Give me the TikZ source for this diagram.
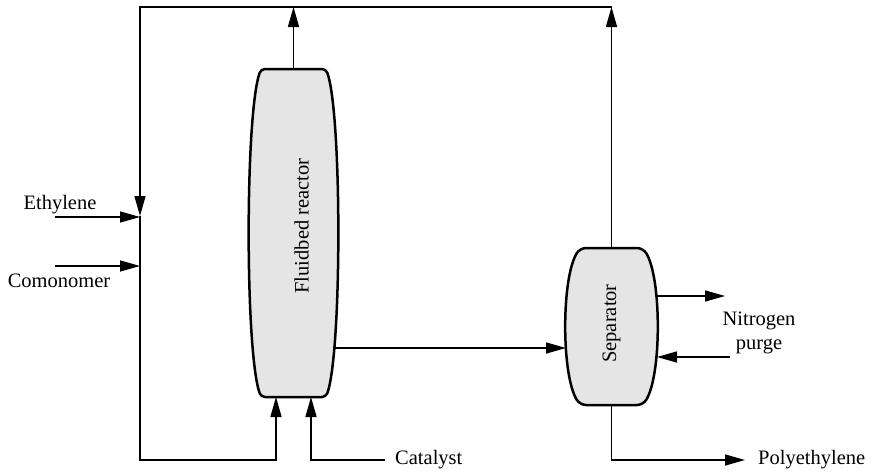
\documentclass[tikz,border=0pt]{standalone}
\usepackage{fontspec}
\setmainfont{Liberation Serif}
\usetikzlibrary{arrows.meta}

\tikzset{
  vessel/.style={inner sep=0pt, outer sep=0pt},
  shell/.style={line width=2.5pt, fill=black!10, rounded corners=4pt},
  pipe/.style={line width=1.5pt},
  flow/.style={pipe, -{Triangle[length=20pt,width=11pt]}},
  lbl/.style={font=\fontsize{20.5}{24}\selectfont, inner sep=0pt}
}

\begin{document}
\begin{tikzpicture}[x=1pt,y=-1pt]
\useasboundingbox (0,0) rectangle (879,474);

\node[vessel, minimum width=89pt, minimum height=328pt] (reactor) at (293.5,233) {};
\node[vessel, minimum width=91pt, minimum height=157pt] (sep) at (611.5,326.5) {};

% vessel shells
\draw[shell] (reactor.north) -- ([xshift=-12pt]reactor.north east)
  .. controls ([xshift=4pt,yshift=-45pt]reactor.north east) and ([xshift=4pt,yshift=45pt]reactor.south east) .. ([xshift=-12pt]reactor.south east)
  -- ([xshift=12pt]reactor.south west)
  .. controls ([xshift=-4pt,yshift=45pt]reactor.south west) and ([xshift=-4pt,yshift=-45pt]reactor.north west) .. ([xshift=12pt]reactor.north west)
  -- cycle;
\draw[shell, rounded corners=6pt] (sep.north) -- ([xshift=-14pt]sep.north east)
  .. controls ([xshift=4.7pt,yshift=-30pt]sep.north east) and ([xshift=4.7pt,yshift=30pt]sep.south east) .. ([xshift=-14pt]sep.south east)
  -- ([xshift=14pt]sep.south west)
  .. controls ([xshift=-4.7pt,yshift=30pt]sep.south west) and ([xshift=-4.7pt,yshift=-30pt]sep.north west) .. ([xshift=14pt]sep.north west)
  -- cycle;

\node[lbl, rotate=90] (reactorlbl) at ([xshift=8pt,yshift=7pt]reactor.center) {Fluidbed reactor};
\node[lbl, rotate=90] (seplbl) at ([yshift=3pt]sep.center) {Separator};

% labels
\node[lbl, anchor=base] (ethylene) at (60,209) {Ethylene};
\node[lbl, anchor=base] (comonomer) at (59,287) {Comonomer};
\node[lbl, anchor=west, inner xsep=10pt] (catalyst) at (385,460) {Catalyst};
\node[lbl, anchor=west, inner xsep=13pt] (poly) at (745,460) {Polyethylene};
\node[lbl, align=center] (n2) at (759,333) {Nitrogen\\purge};

\coordinate (nw) at (140,7);
\coordinate (ne) at (sep.north |- nw);
\coordinate (mix) at (140,216);
\coordinate (sw) at (140,460);
\coordinate (ethin) at (55,217);
\coordinate (comin) at (55,266);
\coordinate (prod) at ([xshift=-4pt,yshift=-115pt]reactor.east);
\coordinate (vent) at (725,296);
\coordinate (n2in) at (730,357);

% recycle loop
\draw[flow] (reactor.north) -- (reactor.north |- nw);
\draw[flow] (sep.north) -- (ne);
\draw[flow] (ne) -- (nw) -- (mix);
\draw[flow] (mix) -- (sw) -| ([xshift=-17.5pt]reactor.south);

% feeds and products
\draw[flow] (ethin) -- (ethin -| mix);
\draw[flow] (comin) -- (comin -| mix);
\draw[flow] (catalyst.west) -| ([xshift=17.5pt]reactor.south);
\draw[flow] (prod) -- (prod -| sep.west);
\draw[flow] ([yshift=30.5pt]sep.east) -- (vent);
\draw[flow] (n2in) -- (n2in -| sep.east);
\draw[flow] (sep.south) |- (poly.west);
\end{tikzpicture}
\end{document}
